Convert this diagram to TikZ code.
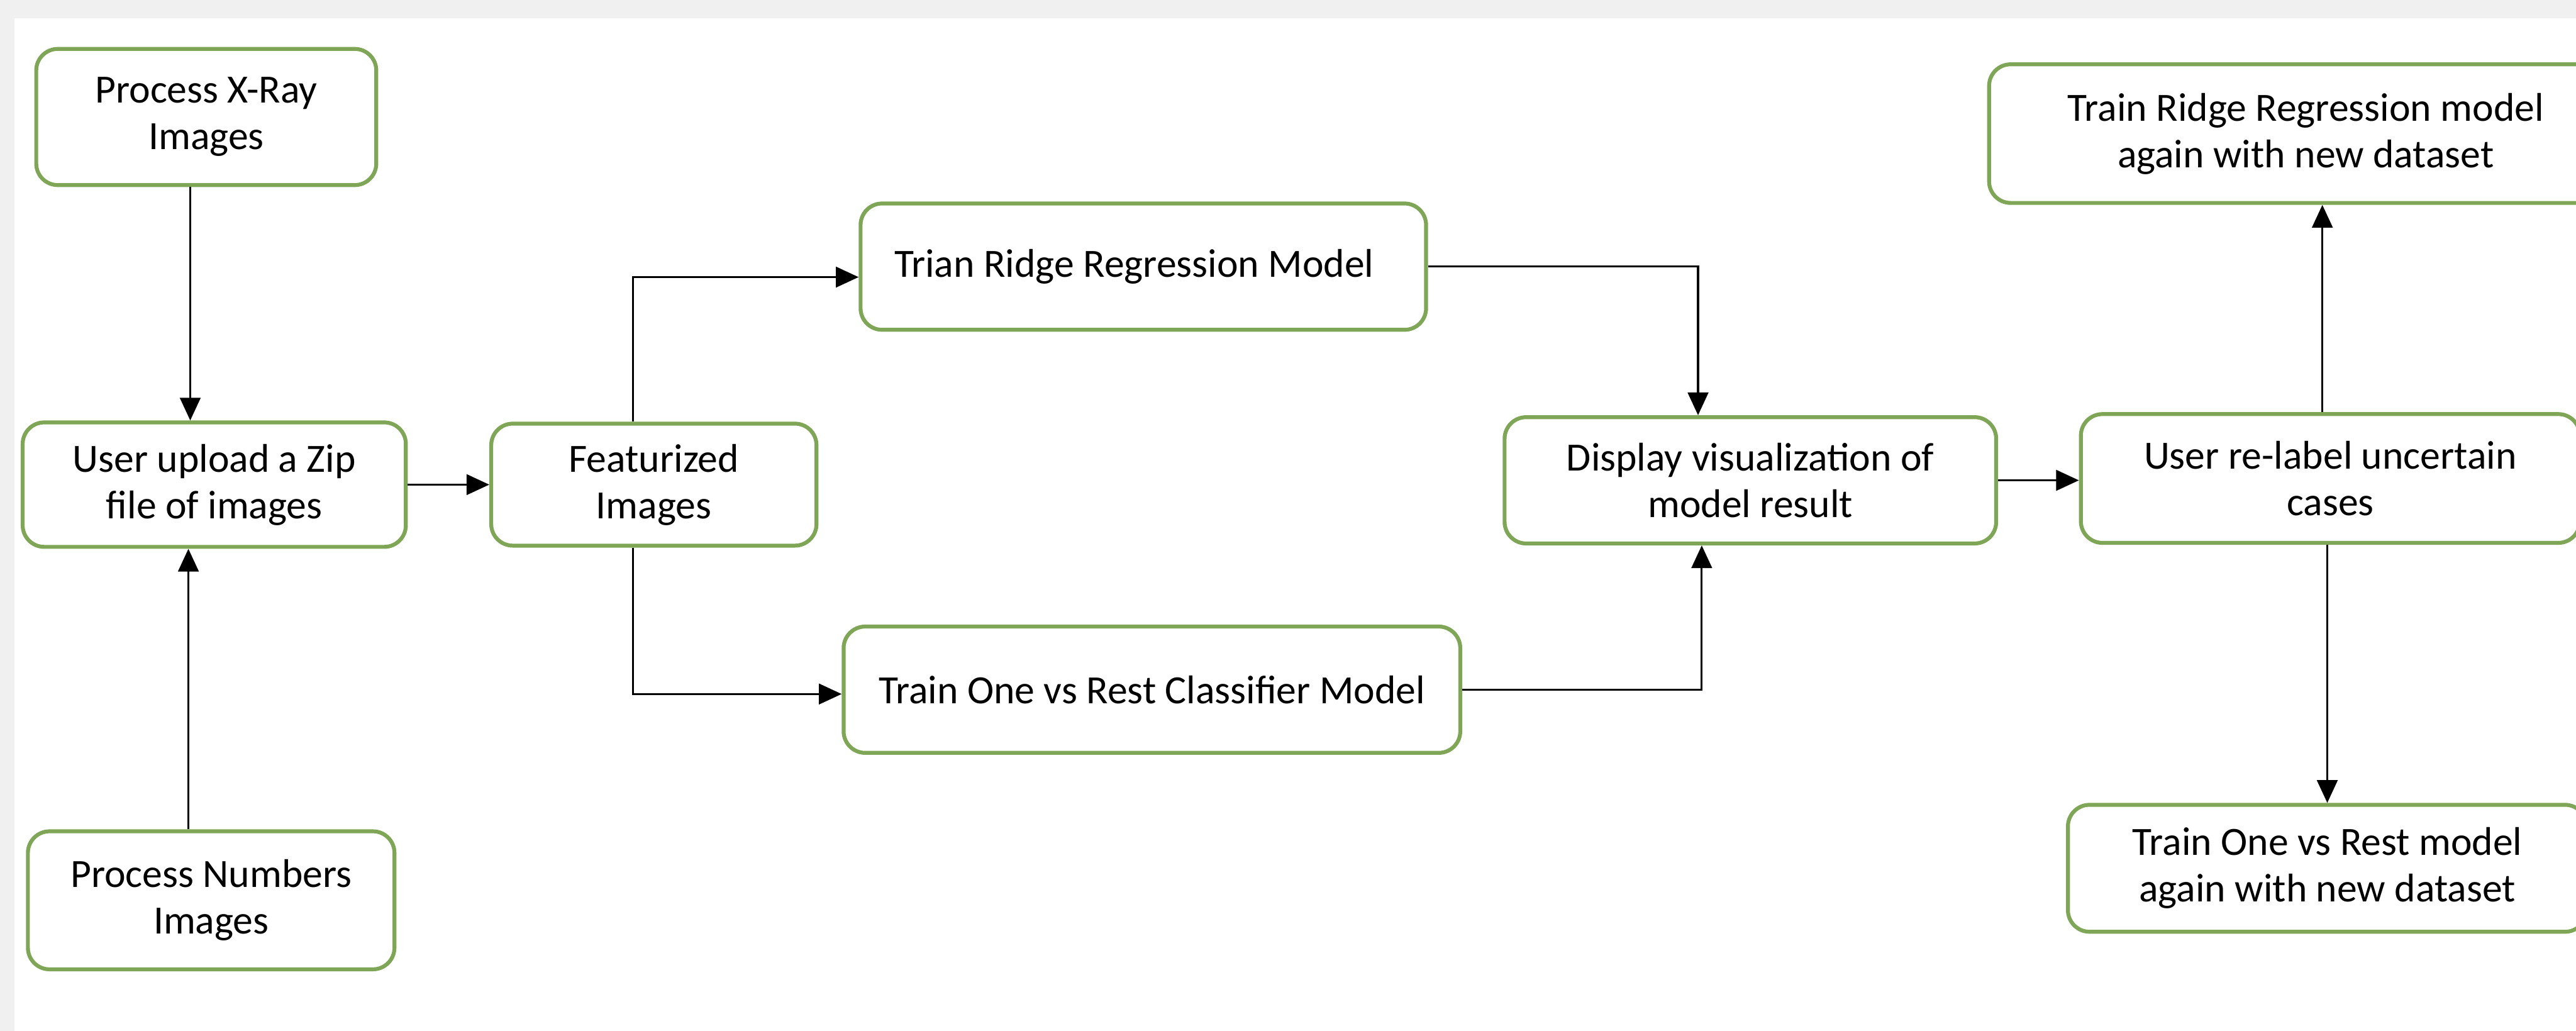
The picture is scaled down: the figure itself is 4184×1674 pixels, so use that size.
\documentclass[tikz,border=0pt]{standalone}
\usepackage{fontspec}
\setmainfont{Carlito}
\usetikzlibrary{arrows.meta}
\definecolor{boxgreen}{HTML}{7FA656}
\definecolor{bggray}{HTML}{F0F0F0}
\tikzset{
  box/.style={draw=boxgreen, line width=1.8pt, rounded corners=0.35cm, fill=white,
    align=center, inner sep=0pt, font=\fontsize{18.5}{21.5}\selectfont},
  conn/.style={line width=0.9pt, draw=black},
  arr/.style={conn, -{Triangle[length=10.5pt,width=9.5pt]}},
}
\begin{document}
\begin{tikzpicture}[x=0.01cm, y=-0.01cm]
\useasboundingbox (0,0) rectangle (4184,1674);
\clip (0,0) rectangle (4184,1674);
\fill[bggray] (0,0) rectangle (4184,1674);
\fill[white] (23,30) rectangle (4184,1674);

% nodes
\node[box, minimum width=5.52cm, minimum height=2.21cm] (xray) at (335,190) {Process X-Ray\\Images};
\node[box, minimum width=6.22cm, minimum height=2.02cm] (upload) at (348,787) {User upload a Zip\\file of images};
\node[box, minimum width=5.95cm, minimum height=2.24cm] (numbers) at (343,1462) {Process Numbers\\Images};
\node[box, minimum width=5.28cm, minimum height=1.98cm] (feat) at (1062,787) {Featurized\\Images};
\node[box, minimum width=9.18cm, minimum height=2.05cm] (trr) at (1857,433) {\hspace*{-0.3cm}Trian Ridge Regression Model};
\node[box, minimum width=10.01cm, minimum height=2.05cm] (ovr) at (1871,1120) {Train One vs Rest Classifier Model};
\node[box, minimum width=7.98cm, minimum height=2.05cm] (disp) at (2843,780) {Display visualization of\\model result};
\node[box, minimum width=8.10cm, minimum height=2.09cm] (relabel) at (3785,777) {User re-label uncertain\\cases};
\node[box, minimum width=10.28cm, minimum height=2.25cm] (rragain) at (3745,217) {Train Ridge Regression model\\again with new dataset};
\node[box, minimum width=8.42cm, minimum height=2.06cm] (ovragain) at (3780,1410) {Train One vs Rest model\\again with new dataset};

% helper coordinates
\coordinate (xA) at (309,0);
\coordinate (xB) at (306,0);
\coordinate (xC) at (1028,0);
\coordinate (yA) at (0,450);
\coordinate (yB) at (0,1127);
\coordinate (xD) at (2758,0);
\coordinate (xE) at (2764,0);
\coordinate (xF) at (3772,0);
\coordinate (xG) at (3780,0);

% connectors
\draw[arr] (xray.south -| xA) -- (upload.north -| xA);
\draw[arr] (numbers.north -| xB) -- (upload.south -| xB);
\draw[arr] (upload.east) -- (feat.west);
\draw[arr] (feat.north -| xC) |- (trr.west |- yA);
\draw[arr] (feat.south -| xC) |- (ovr.west |- yB);
\draw[arr] (trr.east) -| (disp.north -| xD);
\draw[arr] (ovr.east) -| (disp.south -| xE);
\draw[arr] (disp.east) -- (relabel.west |- disp.east);
\draw[arr] (relabel.north -| xF) -- (rragain.south -| xF);
\draw[arr] (relabel.south -| xG) -- (ovragain.north -| xG);
\end{tikzpicture}
\end{document}
